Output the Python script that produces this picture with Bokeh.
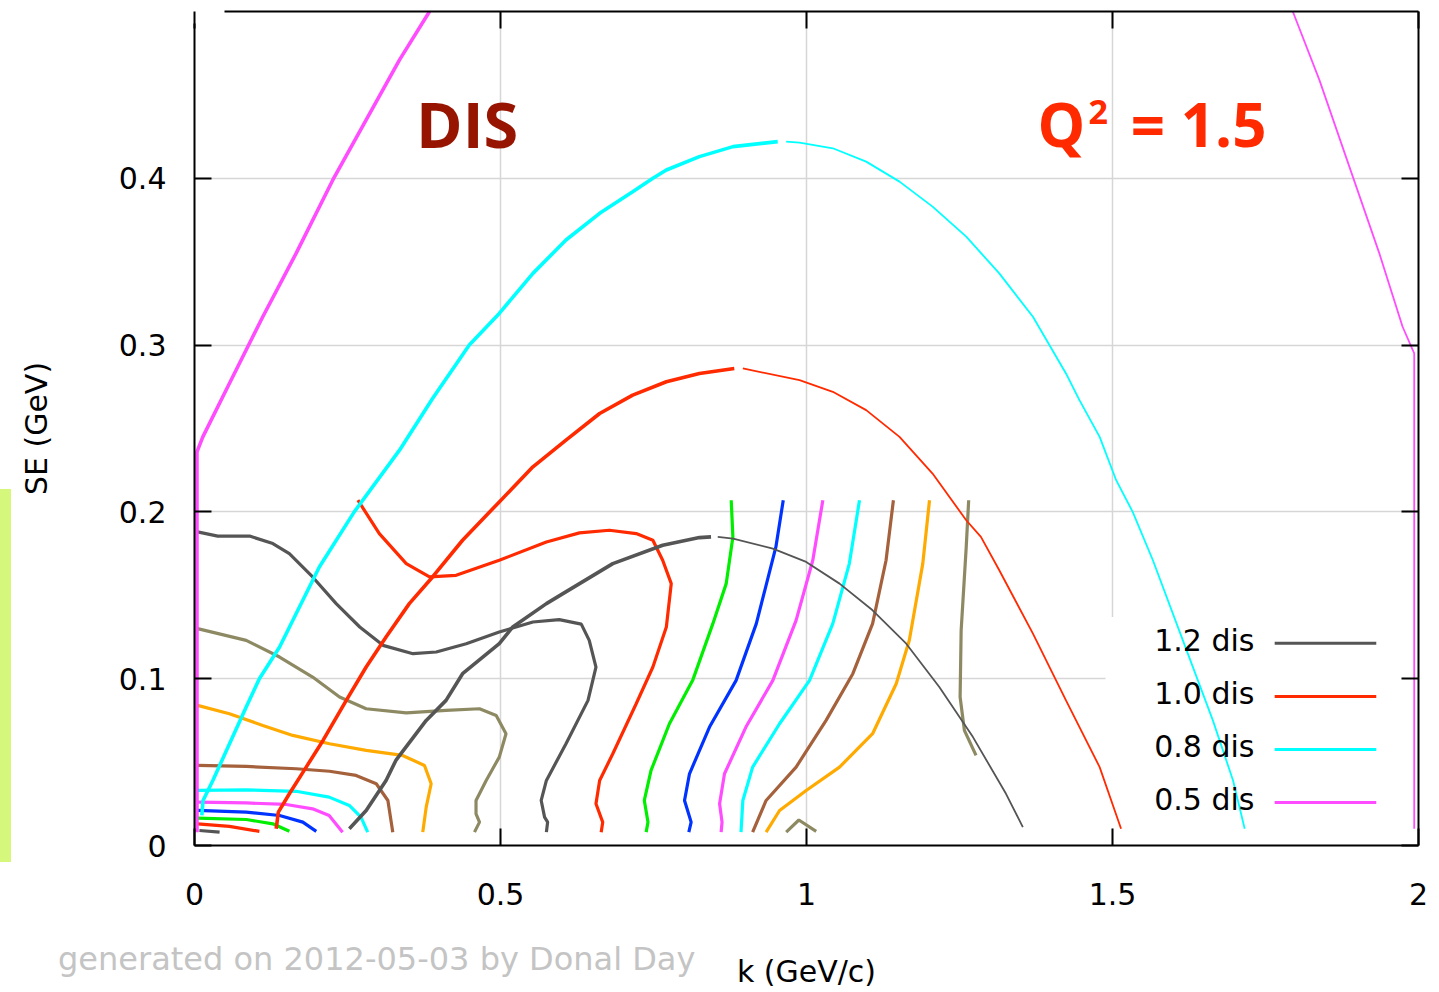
from bokeh.plotting import figure
from bokeh.models import Range1d, LinearAxis, FixedTicker, Label, CustomJSTickFormatter, Div
from bokeh.layouts import column
from bokeh.embed import file_html
from bokeh.resources import INLINE

# ---------------- axes ----------------
x_ticks = [0, 0.5, 1, 1.5, 2]
x_tick_labels = ["0", "0.5", "1", "1.5", "2"]
y_ticks = [0, 0.1, 0.2, 0.3, 0.4]
y_tick_labels = ["0", "0.1", "0.2", "0.3", "0.4"]
x_label = "k (GeV/c)"
y_label = "SE (GeV)"
credit_text = "generated on 2012-05-03 by Donal Day"

# ---------------- DIS kinematic boundaries (rising part thick, falling part thin) ----------------
legend_labels = ["1.2 dis", "1.0 dis", "0.8 dis", "0.5 dis"]
boundary_colors = ["#555555", "#ff2a00", "#00ffff", "#ff4cff"]

b12_rise_k = [0.253, 0.2805, 0.313, 0.329, 0.3786, 0.411, 0.438, 0.498, 0.52, 0.575, 0.602, 0.6835, 0.765, 0.825, 0.844]
b12_rise_se = [0.010, 0.021, 0.039, 0.051, 0.075, 0.087, 0.103, 0.121, 0.131, 0.145, 0.151, 0.169, 0.180, 0.1846, 0.185]
b12_fall_k = [0.855, 0.88, 0.945, 0.9995, 1.054, 1.108, 1.163, 1.217, 1.272, 1.326, 1.3535]
b12_fall_se = [0.185, 0.184, 0.178, 0.170, 0.157, 0.141, 0.121, 0.095, 0.065, 0.031, 0.011]

b10_rise_k = [0.1335, 0.137, 0.155, 0.1825, 0.21, 0.248, 0.2805, 0.313, 0.351, 0.389, 0.438, 0.498, 0.553, 0.607, 0.662, 0.716, 0.771, 0.825, 0.882]
b10_rise_se = [0.010, 0.020, 0.031, 0.047, 0.063, 0.087, 0.107, 0.125, 0.145, 0.161, 0.183, 0.206, 0.227, 0.243, 0.259, 0.270, 0.278, 0.283, 0.286]
b10_fall_k = [0.896, 0.9886, 1.043, 1.0975, 1.152, 1.206, 1.261, 1.285, 1.315, 1.370, 1.424, 1.479, 1.514]
b10_fall_se = [0.286, 0.279, 0.272, 0.261, 0.245, 0.223, 0.195, 0.185, 0.165, 0.127, 0.087, 0.047, 0.010]

b08_rise_k = [0.012, 0.014, 0.030, 0.0845, 0.106, 0.139, 0.204, 0.261, 0.335, 0.389, 0.449, 0.498, 0.553, 0.607, 0.662, 0.716, 0.749, 0.771, 0.825, 0.880, 0.953]
b08_rise_se = [0.018, 0.027, 0.039, 0.083, 0.100, 0.119, 0.167, 0.200, 0.237, 0.268, 0.300, 0.319, 0.343, 0.363, 0.379, 0.392, 0.400, 0.405, 0.413, 0.419, 0.422]
b08_fall_k = [0.9668, 0.9886, 1.043, 1.0975, 1.152, 1.206, 1.261, 1.315, 1.370, 1.424, 1.446, 1.479, 1.506, 1.533, 1.566, 1.615, 1.664, 1.697, 1.716]
b08_fall_se = [0.422, 0.4214, 0.418, 0.410, 0.398, 0.383, 0.365, 0.343, 0.317, 0.283, 0.267, 0.245, 0.219, 0.200, 0.171, 0.123, 0.075, 0.039, 0.010]

b05_rise_k = [0.004, 0.004, 0.0136, 0.057, 0.1116, 0.166, 0.226, 0.2805, 0.335, 0.384]
b05_rise_se = [0.008, 0.236, 0.245, 0.277, 0.317, 0.355, 0.399, 0.435, 0.471, 0.500]
b05_fall_k = [1.7946, 1.838, 1.887, 1.936, 1.974, 1.993, 1.993]
b05_fall_se = [0.500, 0.459, 0.407, 0.355, 0.311, 0.295, 0.010]

# ---------------- contour lines ----------------
c_gray0_k = [0.008, 0.041]
c_gray0_se = [0.009, 0.008]
c_red0_k = [0.005, 0.057, 0.106]
c_red0_se = [0.013, 0.0115, 0.0085]
c_green0_k = [0.005, 0.0845, 0.128, 0.155]
c_green0_se = [0.0164, 0.0156, 0.013, 0.0085]
c_blue0_k = [0.005, 0.0845, 0.139, 0.177, 0.199]
c_blue0_se = [0.021, 0.020, 0.018, 0.014, 0.0085]
c_mag0_k = [0.005, 0.0845, 0.15, 0.193, 0.22, 0.242]
c_mag0_se = [0.026, 0.0255, 0.0246, 0.022, 0.018, 0.008]
c_cyan0_k = [0.005, 0.0845, 0.166, 0.22, 0.253, 0.272, 0.283]
c_cyan0_se = [0.033, 0.0333, 0.0325, 0.029, 0.024, 0.017, 0.008]
c_brown0_k = [0.005, 0.0845, 0.166, 0.2206, 0.264, 0.297, 0.316, 0.324]
c_brown0_se = [0.048, 0.0474, 0.046, 0.0445, 0.042, 0.037, 0.027, 0.008]
c_orange0_k = [0.005, 0.057, 0.1116, 0.1606, 0.2206, 0.2805, 0.340, 0.3758, 0.3867, 0.3786, 0.373]
c_orange0_se = [0.084, 0.079, 0.072, 0.066, 0.061, 0.057, 0.054, 0.048, 0.037, 0.023, 0.008]
c_olive0_k = [0.005, 0.0845, 0.139, 0.193, 0.237, 0.2805, 0.346, 0.411, 0.4657, 0.493, 0.509, 0.498, 0.4766, 0.460, 0.460, 0.4657, 0.4575]
c_olive0_se = [0.130, 0.123, 0.113, 0.101, 0.089, 0.082, 0.0795, 0.081, 0.082, 0.078, 0.067, 0.053, 0.039, 0.027, 0.019, 0.014, 0.008]
c_gray1_k = [0.005, 0.038, 0.09, 0.128, 0.155, 0.193, 0.2315, 0.27, 0.308, 0.357, 0.395, 0.444, 0.498, 0.553, 0.596, 0.632, 0.645, 0.656, 0.643, 0.607, 0.575, 0.5665, 0.572, 0.577, 0.575]
c_gray1_se = [0.188, 0.1855, 0.1855, 0.181, 0.175, 0.161, 0.145, 0.131, 0.120, 0.115, 0.116, 0.121, 0.128, 0.134, 0.1354, 0.1327, 0.123, 0.107, 0.087, 0.061, 0.039, 0.027, 0.017, 0.014, 0.008]
c_red1_k = [0.267, 0.302, 0.346, 0.384, 0.4275, 0.498, 0.575, 0.629, 0.678, 0.7217, 0.749, 0.765, 0.779, 0.771, 0.749, 0.7217, 0.6835, 0.662, 0.656, 0.667, 0.6645]
c_red1_se = [0.207, 0.187, 0.169, 0.161, 0.162, 0.171, 0.182, 0.1874, 0.189, 0.187, 0.183, 0.171, 0.157, 0.131, 0.107, 0.085, 0.055, 0.039, 0.025, 0.014, 0.008]
c_green1_k = [0.877, 0.8797, 0.8688, 0.847, 0.814, 0.776, 0.746, 0.735, 0.741, 0.738]
c_green1_se = [0.207, 0.185, 0.157, 0.133, 0.099, 0.073, 0.045, 0.027, 0.014, 0.008]
c_blue1_k = [0.962, 0.950, 0.918, 0.885, 0.8415, 0.8088, 0.8007, 0.8115, 0.8077]
c_blue1_se = [0.207, 0.179, 0.133, 0.099, 0.071, 0.043, 0.027, 0.014, 0.008]
c_mag1_k = [1.0267, 1.0103, 0.983, 0.945, 0.901, 0.866, 0.858, 0.862, 0.8605]
c_mag1_se = [0.207, 0.171, 0.135, 0.099, 0.071, 0.043, 0.025, 0.014, 0.008]
c_cyan1_k = [1.0866, 1.070, 1.043, 1.005, 0.956, 0.912, 0.896, 0.893]
c_cyan1_se = [0.207, 0.169, 0.133, 0.099, 0.073, 0.047, 0.027, 0.008]
c_brown1_k = [1.142, 1.130, 1.108, 1.0757, 1.032, 0.983, 0.934, 0.912]
c_brown1_se = [0.207, 0.171, 0.133, 0.103, 0.075, 0.047, 0.027, 0.008]
c_orange1_k = [1.201, 1.19, 1.168, 1.1466, 1.108, 1.054, 0.9995, 0.956, 0.934]
c_orange1_se = [0.207, 0.169, 0.123, 0.097, 0.067, 0.047, 0.033, 0.021, 0.008]
c_olive1_k = [1.265, 1.261, 1.2527, 1.251, 1.258, 1.277]
c_olive1_se = [0.207, 0.179, 0.129, 0.089, 0.069, 0.054]
c_olive2_k = [0.9668, 0.9875, 1.0158]
c_olive2_se = [0.008, 0.0153, 0.0085]

GRAY, RED, GREEN, BLUE, MAG, CYAN, BROWN, ORANGE, OLIVE = (
    "#555555", "#ff2a00", "#00ee00", "#0033ff", "#ff4cff", "#00ffff", "#a5613c", "#ffaa00", "#8d8a63")

contours = [
    (c_gray0_k, c_gray0_se, GRAY), (c_red0_k, c_red0_se, RED), (c_green0_k, c_green0_se, GREEN),
    (c_blue0_k, c_blue0_se, BLUE), (c_mag0_k, c_mag0_se, MAG), (c_cyan0_k, c_cyan0_se, CYAN),
    (c_brown0_k, c_brown0_se, BROWN), (c_orange0_k, c_orange0_se, ORANGE), (c_olive0_k, c_olive0_se, OLIVE),
    (c_gray1_k, c_gray1_se, GRAY), (c_red1_k, c_red1_se, RED), (c_green1_k, c_green1_se, GREEN),
    (c_blue1_k, c_blue1_se, BLUE), (c_mag1_k, c_mag1_se, MAG), (c_cyan1_k, c_cyan1_se, CYAN),
    (c_brown1_k, c_brown1_se, BROWN), (c_orange1_k, c_orange1_se, ORANGE), (c_olive1_k, c_olive1_se, OLIVE),
    (c_olive2_k, c_olive2_se, OLIVE),
]
boundaries = [
    (b12_rise_k, b12_rise_se, b12_fall_k, b12_fall_se),
    (b10_rise_k, b10_rise_se, b10_fall_k, b10_fall_se),
    (b08_rise_k, b08_rise_se, b08_fall_k, b08_fall_se),
    (b05_rise_k, b05_rise_se, b05_fall_k, b05_fall_se),
]

FONT = "DejaVu Sans"
BIG_FONT = "Open Sans"

p = figure(width=1436, height=992, x_range=Range1d(0, 2), y_range=Range1d(0, 0.5),
           output_backend="svg", toolbar_location=None,
           min_border_left=194, min_border_right=18, min_border_top=11, min_border_bottom=147)
p.outline_line_color = None
p.background_fill_color = "white"
p.border_fill_color = "white"

def style_axis(ax, ticks, labels=None, bounds=None):
    ax.ticker = FixedTicker(ticks=ticks)
    if labels is None:
        ax.formatter = CustomJSTickFormatter(code="return ''")
    else:
        ax.major_label_overrides = {t: l for t, l in zip(ticks, labels)}
    ax.major_tick_in = 17
    ax.major_tick_out = 0
    ax.minor_tick_line_color = None
    ax.axis_line_width = 2
    ax.major_tick_line_width = 2
    ax.axis_line_color = "black"
    ax.major_tick_line_color = "black"
    ax.major_label_text_font = FONT
    ax.major_label_text_font_size = "30px"
    ax.major_label_text_color = "black"
    ax.axis_label_text_font = FONT
    ax.axis_label_text_font_size = "30px"
    ax.axis_label_text_font_style = "normal"
    ax.axis_label_text_color = "black"
    if bounds is not None:
        ax.bounds = bounds

style_axis(p.xaxis[0], x_ticks, x_tick_labels)
style_axis(p.yaxis[0], y_ticks, y_tick_labels, bounds=(0, 0.493))
p.xaxis[0].axis_label = x_label
p.yaxis[0].axis_label = y_label
p.xaxis[0].major_label_standoff = 37
p.xaxis[0].axis_label_standoff = 46
p.yaxis[0].major_label_standoff = 28
p.yaxis[0].axis_label_standoff = 62

top_ax = LinearAxis()
style_axis(top_ax, x_ticks, None, bounds=(0.049, 2))
p.add_layout(top_ax, "above")
right_ax = LinearAxis()
style_axis(right_ax, y_ticks, None)
p.add_layout(right_ax, "right")

for g in (p.xgrid[0], p.ygrid[0]):
    g.grid_line_color = "#d6d6d6"
    g.grid_line_width = 1.5
p.xgrid[0].ticker = FixedTicker(ticks=x_ticks)
p.ygrid[0].ticker = FixedTicker(ticks=y_ticks)

# white key box (hides the grid behind the key)
KEY_BOX = dict(left=1.4886, right=2.0, bottom=0.0102, top=0.137)
p.quad(left=[KEY_BOX["left"]], right=[KEY_BOX["right"]], bottom=[KEY_BOX["bottom"]], top=[KEY_BOX["top"]],
       fill_color="white", line_color=None)

for k, se, col in contours:
    p.line(k, se, line_color=col, line_width=3.2)

for (rk, rse, fk, fse), col in zip(boundaries, boundary_colors):
    p.line(rk, rse, line_color=col, line_width=3.6)
    p.line(fk, fse, line_color=col, line_width=1.8)

# key
KEY_TEXT_X = 1.732
KEY_LINE_X0, KEY_LINE_X1 = 1.765, 1.931
KEY_ROWS_Y = [0.1212, 0.0894, 0.0576, 0.0258]
p.segment(x0=[KEY_LINE_X0] * 4, x1=[KEY_LINE_X1] * 4, y0=KEY_ROWS_Y, y1=KEY_ROWS_Y,
          line_color=boundary_colors, line_width=3)
for lab, yy in zip(legend_labels, KEY_ROWS_Y):
    p.add_layout(Label(x=KEY_TEXT_X, y=yy + 0.0015, text=lab, text_align="right", text_baseline="middle",
                       text_font=FONT, text_font_size="30px", text_color="black"))

# titles inside plot
p.add_layout(Label(x=0.362, y=0.4328, text="DIS", text_font=BIG_FONT, text_font_style="bold",
                   text_font_size="63px", text_color="#961400", text_baseline="alphabetic"))
p.add_layout(Label(x=1.3775, y=0.4328, text="Q", text_font=BIG_FONT, text_font_style="bold",
                   text_font_size="60px", text_color="#ff2a00", text_baseline="alphabetic"))
p.add_layout(Label(x=1.4608, y=0.4400, text="2", text_font=BIG_FONT, text_font_style="bold",
                   text_font_size="34px", text_color="#ff2a00", text_baseline="alphabetic"))
p.add_layout(Label(x=1.7516, y=0.4328, text="= 1.5", text_font=BIG_FONT, text_font_style="bold",
                   text_font_size="60px", text_color="#ff2a00", text_baseline="alphabetic", text_align="right"))

# credit line below the plot (left of the x-axis title)
credit = Div(text=credit_text, margin=(-51, 0, 0, 58),
             styles={"font-family": "DejaVu Sans", "font-size": "32px", "color": "#c4c4c4",
                     "white-space": "nowrap", "line-height": "36px"})

# lime side bar at the left page edge (part of the original slide)
side_bar = Div(text="", width=11, height=373, margin=(-488, 0, 0, 0),
               styles={"background-color": "#d5f87c", "position": "relative", "z-index": "5"})

layout = column(p, credit, side_bar)
open("out.html", "w").write(file_html(layout, INLINE))
